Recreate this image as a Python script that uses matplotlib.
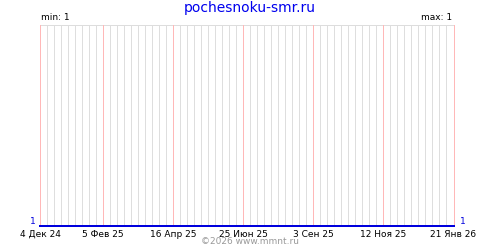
import matplotlib
matplotlib.use("Agg")
import matplotlib.pyplot as plt
import matplotlib.dates as mdates
import numpy as np
import datetime as dt

# Data
dates = ["2024-12-04", "2026-01-21"]
values = [1, 1]
tick_dates = ["2024-12-04", "2025-02-05", "2025-04-16", "2025-06-25",
              "2025-09-03", "2025-11-12", "2026-01-21"]
tick_labels = ["4 Дек 24", "5 Фев 25", "16 Апр 25", "25 Июн 25",
               "3 Сен 25", "12 Ноя 25", "21 Янв 26"]
title = "pochesnoku-smr.ru"
footer = "©2026 www.mmnt.ru"

d = [dt.datetime.strptime(s, "%Y-%m-%d") for s in dates]
td = [dt.datetime.strptime(s, "%Y-%m-%d") for s in tick_dates]

fig = plt.figure(figsize=(5, 2.5), dpi=100)
ax = fig.add_axes([40/500, 1-225.5/250, 413.5/500, 200.5/250])

vmin, vmax = min(values), max(values)
if vmax == vmin:
    ylo, yhi = vmin, vmin + 1
else:
    ylo, yhi = vmin, vmax
ax.set_ylim(ylo, yhi)
ax.set_xlim(d[0], d[-1])

# weekly grey grid, pink at labelled dates
x0 = mdates.date2num(d[0]); x1 = mdates.date2num(d[-1])
tnum = [mdates.date2num(t) for t in td]
weekly = [x for x in np.arange(x0, x1 + 0.5, 7) if min(abs(x - t) for t in tnum) > 0.5]
ax.vlines(weekly, 0, 1, transform=ax.get_xaxis_transform(), colors="#dedede",
          lw=0.72, zorder=1, antialiased=False)
ax.vlines(tnum, 0, 1, transform=ax.get_xaxis_transform(), colors="#ffb8b8",
          lw=0.72, zorder=3, antialiased=False, clip_on=False)
ax.axhline(yhi, color="#dddddd", lw=0.72, zorder=2, clip_on=False, antialiased=False)

ax.plot(d, values, color="#0000dd", lw=1.3, zorder=5, clip_on=False, antialiased=False)

for s in ax.spines.values():
    s.set_visible(False)
ax.set_yticks([])
ax.set_xticks(td)
ax.set_xticklabels(tick_labels, fontsize=6.5, family="DejaVu Sans")
ax.tick_params(axis="x", length=0, pad=3)

fig.text(0.5, 1 - 8/250, title, color="#0000ee", fontsize=10, ha="center", va="center")
fig.text(41/500, 1 - 17/250, f"min: {vmin}", fontsize=6.5, ha="left", va="center")
fig.text(452/500, 1 - 17/250, f"max: {vmax}", fontsize=6.5, ha="right", va="center")
fig.text(36/500, 1 - 222/250, f"{values[0]}", fontsize=6.5, color="#0000dd", ha="right", va="center")
fig.text(460/500, 1 - 222/250, f"{values[-1]}", fontsize=6.5, color="#0000dd", ha="left", va="center")
fig.text(0.5, 1 - 242/250, footer, fontsize=6.5, color="#999999", ha="center", va="center")

fig.savefig("out.png", dpi=100, facecolor="white")
